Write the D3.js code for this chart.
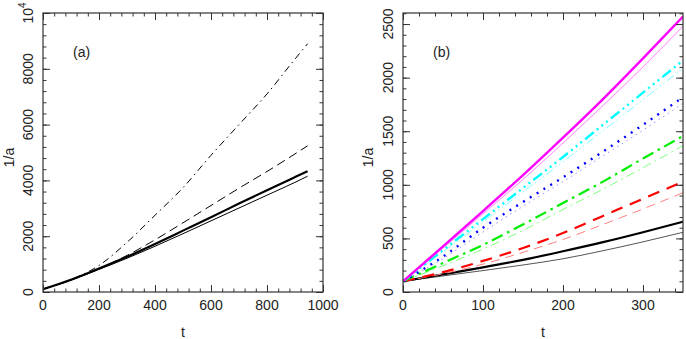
<!DOCTYPE html>
<html>
<head>
<meta charset="utf-8">
<script src="https://cdn.jsdelivr.net/npm/d3@7"></script>
<style>
  body { margin: 0; background: #fff; }
  svg { display: block; font-family: "Liberation Sans", Arial, sans-serif; }
</style>
</head>
<body>
<svg id="chart" width="686" height="339"></svg>
<script>
// panel (a)
const tA = [0, 100, 200, 300, 400, 500, 600, 700, 800, 900, 945];
const aThick = [100, 440, 840, 1260, 1720, 2200, 2680, 3170, 3650, 4120, 4330];
const aThin = [100, 430, 810, 1210, 1640, 2090, 2550, 3010, 3470, 3930, 4150];
const aDashed = [100, 425, 830, 1310, 1870, 2480, 3100, 3720, 4320, 4950, 5240];
const aDashDot = [100, 445, 950, 1780, 2750, 3740, 4900, 6000, 7100, 8350, 8900];
const xTicksA = [0, 200, 400, 600, 800, 1000];
const yTicksA = [0, 2000, 4000, 6000, 8000, 10000];

// panel (b)
const tB = [0, 50, 100, 150, 200, 250, 300, 350];
const magentaThick = [100, 425, 755, 1090, 1440, 1800, 2180, 2570];
const magentaThin = [100, 410, 730, 1050, 1390, 1740, 2100, 2480];
const cyanThick = [100, 390, 680, 970, 1260, 1560, 1860, 2160];
const cyanThin = [100, 375, 655, 935, 1215, 1505, 1795, 2087];
const blueThick = [100, 330, 600, 840, 1070, 1310, 1560, 1818];
const blueThin = [100, 310, 560, 800, 1030, 1270, 1510, 1760];
const greenThick = [100, 270, 440, 630, 830, 1030, 1245, 1455];
const greenThin = [100, 245, 400, 575, 770, 960, 1160, 1365];
const redThick = [100, 185, 290, 410, 550, 710, 870, 1029];
const redThin = [100, 170, 260, 370, 490, 630, 775, 926];
const blackThick = [100, 165, 230, 300, 380, 465, 558, 656];
const blackThin = [100, 150, 200, 252, 310, 385, 468, 557];
const xTicksB = [0, 100, 200, 300];
const yTicksB = [0, 500, 1000, 1500, 2000, 2500];

const svg = d3.select('#chart');

const panels = [
  {
    id: 'a', left: 43, top: 13, width: 280, height: 279,
    xDomain: [0, 1000], yDomain: [0, 10000],
    xTicks: xTicksA, yTicks: yTicksA, xMinor: 40, yMinor: 400,
    tag: '(a)', yLabelX: -29,
    series: [
      { t: tA, v: aThick, color: '#000', width: 2.2, dash: null },
      { t: tA, v: aThin, color: '#000', width: 1, dash: null },
      { t: tA, v: aDashed, color: '#000', width: 1, dash: '9,5' },
      { t: tA, v: aDashDot, color: '#000', width: 1, dash: '7,4,1.5,4' }
    ]
  },
  {
    id: 'b', left: 403, top: 13, width: 280, height: 279,
    xDomain: [0, 350], yDomain: [0, 2603],
    xTicks: xTicksB, yTicks: yTicksB, xMinor: 20, yMinor: 100,
    tag: '(b)', yLabelX: -30,
    series: [
      { t: tB, v: blackThin, color: '#555', width: 1, dash: null },
      { t: tB, v: blackThick, color: '#000', width: 2.2, dash: null },
      { t: tB, v: redThin, color: '#ff8080', width: 1, dash: '9,6' },
      { t: tB, v: redThick, color: '#ff0000', width: 2.2, dash: '12,8' },
      { t: tB, v: greenThin, color: '#80ff80', width: 1, dash: '9,4,2,4' },
      { t: tB, v: greenThick, color: '#00ee00', width: 2.2, dash: '12,5,2.5,5' },
      { t: tB, v: blueThin, color: '#9090ff', width: 1, dash: '1.5,4' },
      { t: tB, v: blueThick, color: '#0000ff', width: 2.4, dash: '2,6' },
      { t: tB, v: cyanThin, color: '#80ffff', width: 1, dash: '9,3,1.5,3,1.5,3,1.5,3' },
      { t: tB, v: cyanThick, color: '#00ffff', width: 2.4, dash: '11,4,2,4,2,4,2,4' },
      { t: tB, v: magentaThin, color: '#ff80ff', width: 1, dash: null },
      { t: tB, v: magentaThick, color: '#ff00ff', width: 2.4, dash: null }
    ]
  }
];

const rangeSteps = (lo, hi, step) => d3.range(lo, hi + step / 2, step);

panels.forEach((p) => {
  const g = svg.append('g').attr('transform', `translate(${p.left}, ${p.top})`);
  const x = d3.scaleLinear().domain(p.xDomain).range([0, p.width]);
  const y = d3.scaleLinear().domain(p.yDomain).range([p.height, 0]);

  // curves
  g.append('clipPath').attr('id', 'clip-' + p.id)
    .append('rect').attr('width', p.width).attr('height', p.height);
  const lines = g.append('g').attr('clip-path', `url(#clip-${p.id})`);
  p.series.forEach((s) => {
    const pts = s.t.map((t, i) => [t, s.v[i]]);
    lines.append('path')
      .datum(pts)
      .attr('fill', 'none')
      .attr('stroke', s.color)
      .attr('stroke-width', s.width)
      .attr('stroke-dasharray', s.dash)
      .attr('d', d3.line().x((d) => x(d[0])).y((d) => y(d[1])).curve(d3.curveMonotoneX));
  });

  // minor + major ticks, inward, on all four sides
  const xMinorVals = rangeSteps(p.xDomain[0], p.xDomain[1], p.xMinor);
  const yMinorVals = rangeSteps(p.yDomain[0], p.yDomain[1], p.yMinor);
  const tickSets = [
    [d3.axisBottom(x), `translate(0, ${p.height})`, xMinorVals, p.xTicks],
    [d3.axisTop(x), 'translate(0, 0)', xMinorVals, p.xTicks],
    [d3.axisLeft(y), 'translate(0, 0)', yMinorVals, p.yTicks],
    [d3.axisRight(y), `translate(${p.width}, 0)`, yMinorVals, p.yTicks]
  ];
  tickSets.forEach(([axis, tr, minor, major]) => {
    g.append('g').attr('transform', tr)
      .call(axis.tickValues(minor).tickSizeInner(-3.5).tickSizeOuter(0).tickFormat(''))
      .call((a) => a.select('.domain').remove())
      .selectAll('line').attr('stroke', '#333');
    g.append('g').attr('transform', tr)
      .call(axis.tickValues(major).tickSizeInner(-7).tickSizeOuter(0).tickFormat(''))
      .call((a) => a.select('.domain').remove())
      .selectAll('line').attr('stroke', '#333');
  });

  g.append('rect')
    .attr('width', p.width).attr('height', p.height)
    .attr('fill', 'none').attr('stroke', '#333').attr('stroke-width', 1.2);

  // x tick labels
  g.selectAll('.xlab')
    .data(p.xTicks)
    .enter()
    .append('text')
    .attr('x', (d) => x(d))
    .attr('y', p.height + 18)
    .attr('text-anchor', 'middle')
    .attr('font-size', 14)
    .attr('fill', '#222')
    .text((d) => d);

  // y tick labels, rotated
  g.selectAll('.ylab')
    .data(p.yTicks)
    .enter()
    .append('text')
    .attr('transform', (d) => `translate(-10, ${y(d)}) rotate(-90)`)
    .attr('text-anchor', 'middle')
    .attr('font-size', 14)
    .attr('fill', '#222')
    .each(function (d) {
      const t = d3.select(this);
      if (d === 10000) {
        t.append('tspan').text('10');
        t.append('tspan').attr('font-size', 10).attr('dy', -7).text('4');
      } else {
        t.text(d);
      }
    });

  // axis titles
  g.append('text')
    .attr('transform', `translate(${p.yLabelX}, ${p.height / 2 + 5}) rotate(-90)`)
    .attr('text-anchor', 'middle')
    .attr('font-size', 14)
    .attr('fill', '#222')
    .text('1/a');

  g.append('text')
    .attr('x', p.width / 2)
    .attr('y', p.height + 45)
    .attr('text-anchor', 'middle')
    .attr('font-size', 14)
    .attr('fill', '#222')
    .text('t');

  g.append('text')
    .attr('x', 30)
    .attr('y', 44)
    .attr('font-size', 14)
    .attr('fill', '#222')
    .text(p.tag);
});
</script>
</body>
</html>
